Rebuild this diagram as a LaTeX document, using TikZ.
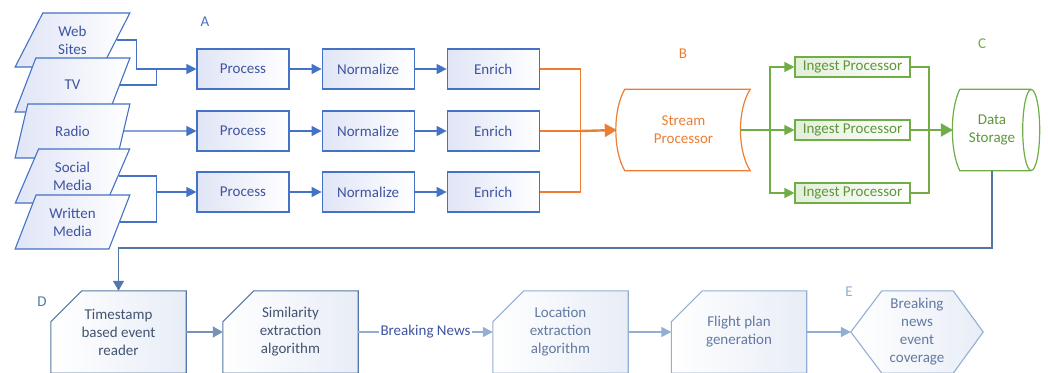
\documentclass[tikz,border=0pt]{standalone}
\usepackage{fontspec}
\setmainfont{Carlito}
\usepackage{tikz}
\usetikzlibrary{arrows.meta,shapes.geometric,positioning,backgrounds}
\definecolor{flowblue}{RGB}{68,114,196}
\definecolor{textblue}{RGB}{62,84,160}
\definecolor{shadeblue}{RGB}{224,229,246}
\definecolor{streamorange}{RGB}{237,125,49}
\definecolor{ingestgreen}{RGB}{112,173,71}
\definecolor{textgreen}{RGB}{96,150,58}
\definecolor{shadegreen}{RGB}{226,239,218}
\definecolor{deepslate}{RGB}{84,120,165}
\definecolor{slatetext}{RGB}{66,84,112}
\definecolor{paleblue}{RGB}{146,174,212}
\definecolor{paletext}{RGB}{98,122,162}
\definecolor{cardshade}{RGB}{232,237,246}

\begin{document}
\begin{tikzpicture}[x=1pt,y=-1pt,
    font=\fontsize{15}{18}\selectfont,
    srcbox/.style={trapezium, trapezium left angle=65, trapezium right angle=115,
        trapezium stretches=true, minimum width=115pt, minimum height=54pt,
        inner sep=0pt, align=center, draw=flowblue, line width=1.1pt,
        left color=shadeblue, right color=white, text=textblue},
    procbox/.style={rectangle, minimum width=92pt, minimum height=40pt, inner sep=0pt,
        draw=flowblue, line width=1.1pt, left color=shadeblue, right color=white,
        text=textblue},
    ingestbox/.style={rectangle, minimum width=115pt, minimum height=20pt, inner sep=0pt,
        draw=ingestgreen, line width=1.1pt, left color=shadegreen, right color=white,
        text=textgreen},
    stagebox/.style={minimum width=135pt, minimum height=82pt, inner sep=0pt, align=center},
    bline/.style={draw=flowblue, line width=1.2pt},
    barrow/.style={bline, -{Triangle[length=10pt,width=10pt]}},
    oline/.style={draw=streamorange, line width=1.2pt},
    gline/.style={draw=ingestgreen, line width=1.2pt},
    garrow/.style={gline, -{Triangle[length=10pt,width=10pt]}},
    slatearrow/.style={draw=deepslate, line width=1.2pt, -{Triangle[length=10pt,width=11pt]}},
    palearrow/.style={draw=paleblue, line width=1.6pt, -{Triangle[length=10pt,width=10pt]}},
    tag/.style={inner sep=0pt}]
\useasboundingbox (0,0) rectangle (1048,372);

% sources
\node[srcbox] (ws) at (72.5,40) {Web\\Sites};
\node[srcbox] (tv) at (72.5,85) {TV};
\node[srcbox] (ra) at (72.5,131) {Radio};
\node[srcbox] (sm) at (72.5,176) {Social\\Media};
\node[srcbox] (wm) at (72.5,222) {Written\\Media};

% A: process / normalize / enrich
\node[procbox] (pr1) at (243,69) {Process};
\node[procbox, right=32pt of pr1] (no1) {Normalize};
\node[procbox, right=32pt of no1] (en1) {Enrich};
\node[procbox] (pr2) at (243,131) {Process};
\node[procbox, right=32pt of pr2] (no2) {Normalize};
\node[procbox, right=32pt of no2] (en2) {Enrich};
\node[procbox] (pr3) at (243,192) {Process};
\node[procbox, right=32pt of pr3] (no3) {Normalize};
\node[procbox, right=32pt of no3] (en3) {Enrich};

\draw[bline] (ws.east) -| ([xshift=-60pt]pr1.west);
\draw[bline] (tv.east) -| ([xshift=-40pt]pr1.west);
\draw[barrow] ([xshift=-60pt]pr1.west) -- (pr1.west);
\draw[barrow] (ra.east) -- (pr2.west);
\draw[bline] (sm.east) -| ([xshift=-40pt]pr3.west);
\draw[bline] (wm.east) -| ([xshift=-40pt]pr3.west);
\draw[barrow] ([xshift=-40pt]pr3.west) -- (pr3.west);
\foreach \r in {1,2,3} {
    \draw[barrow] (pr\r.east) -- (no\r.west);
    \draw[barrow] (no\r.east) -- (en\r.west);
}

% B: stream processor
\node[minimum width=133pt, minimum height=81pt, align=center, text=streamorange] (sp) at (683.5,130) {Stream\\Processor};
\draw[oline]
    ([xshift=8pt]sp.north west) .. controls ([xshift=-4pt,yshift=-20pt]sp.north west) and ([xshift=-4pt,yshift=20pt]sp.south west) .. ([xshift=8pt]sp.south west)
    -- (sp.south east) .. controls ([xshift=-13pt,yshift=20pt]sp.south east) and ([xshift=-13pt,yshift=-20pt]sp.north east) .. (sp.north east)
    -- cycle;
\coordinate (ojoin) at ([xshift=41pt]en2.east);
\draw[oline] (en1.east) -| (ojoin) |- (en3.east);
\draw[oline] (en2.east) -- (ojoin);
\draw[oline, line width=2.4pt, -{Triangle[length=12pt,width=13pt]}] (ojoin) -- (sp.west);

% C: ingest + storage
\node[ingestbox] (ip1) at (852.5,67) {Ingest Processor};
\node[ingestbox] (ip2) at (852.5,130) {Ingest Processor};
\node[ingestbox] (ip3) at (852.5,193) {Ingest Processor};
\coordinate (gsplit) at (770,130);
\coordinate (gjoin) at (929,130);
\draw[gline, line width=2.4pt] ([xshift=-10pt]sp.east) -- (gsplit);
\draw[garrow] (gsplit) -- (ip2.west);
\draw[garrow] (gsplit) |- (ip1.west);
\draw[garrow] (gsplit) |- (ip3.west);
\draw[gline] (ip1.east) -| (gjoin) |- (ip3.east);
\draw[gline] (ip2.east) -- (gjoin);

\node[minimum width=78pt, minimum height=81pt, align=center, text=textgreen] (ds) at (992,130) {Data\\Storage};
\draw[gline]
    ([xshift=7pt]ds.north west) .. controls ([xshift=-3pt,yshift=-20pt]ds.north west) and ([xshift=-3pt,yshift=20pt]ds.south west) .. ([xshift=7pt]ds.south west)
    -- (ds.south east) (ds.north east) -- ([xshift=7pt]ds.north west);
\draw[gline] (ds.east) ellipse [x radius=8.5pt, y radius=40.5pt];
\draw[gline, line width=2.4pt, -{Triangle[length=12pt,width=13pt]}] (gjoin) -- (ds.west);

% D / E: event pipeline
\node[stagebox, text=slatetext] (ts) at (118.5,332) {Timestamp\\based event\\reader};
\node[stagebox, text=slatetext] (se) at (290.5,332) {Similarity\\extraction\\algorithm};
\node[stagebox, text=paletext] (lo) at (560.5,332) {Location\\extraction\\algorithm};
\node[stagebox, text=paletext] (fp) at (739,332) {Flight plan\\generation};
\node[stagebox, minimum width=132pt, text=paletext] (he) at (917,332) {Breaking\\news\\event\\coverage};

\begin{scope}[on background layer]
\foreach \n/\c in {ts/deepslate, se/deepslate, lo/paleblue, fp/paleblue}
    \draw[draw=\c, line width=1.1pt, left color=white, right color=cardshade]
        ([yshift=-31pt]\n.north west) -- ([xshift=31pt]\n.north west) -- (\n.north east)
        -- (\n.south east) -- (\n.south west) -- cycle;
\draw[draw=paleblue, line width=1.1pt, left color=white, right color=cardshade]
    (he.west) -- ([xshift=31pt]he.north west) -- ([xshift=-30pt]he.north east) -- (he.east)
    -- ([xshift=-30pt]he.south east) -- ([xshift=31pt]he.south west) -- cycle;
\end{scope}

\draw[slatearrow] (ds.south) -- (ds.south |- 0,248) -| (ts.north);
\draw[slatearrow, draw=deepslate!80] (ts.east) -- (se.west);
\draw[palearrow] (se.east) -- node[fill=white, inner sep=1.5pt, text=textblue] (bn) {Breaking News} (lo.west);
\draw[palearrow] (lo.east) -- (fp.west);
\draw[palearrow] (fp.east) -- (he.west);

% stage letters
\node[tag, text=flowblue] (lblA) at (205,22) {A};
\node[tag, text=streamorange] (lblB) at (683,54) {B};
\node[tag, text=ingestgreen] (lblC) at (982,44) {C};
\node[tag, text=deepslate] (lblD) at (42,302) {D};
\node[tag, text=paleblue] (lblE) at (849,292) {E};
\end{tikzpicture}
\end{document}
